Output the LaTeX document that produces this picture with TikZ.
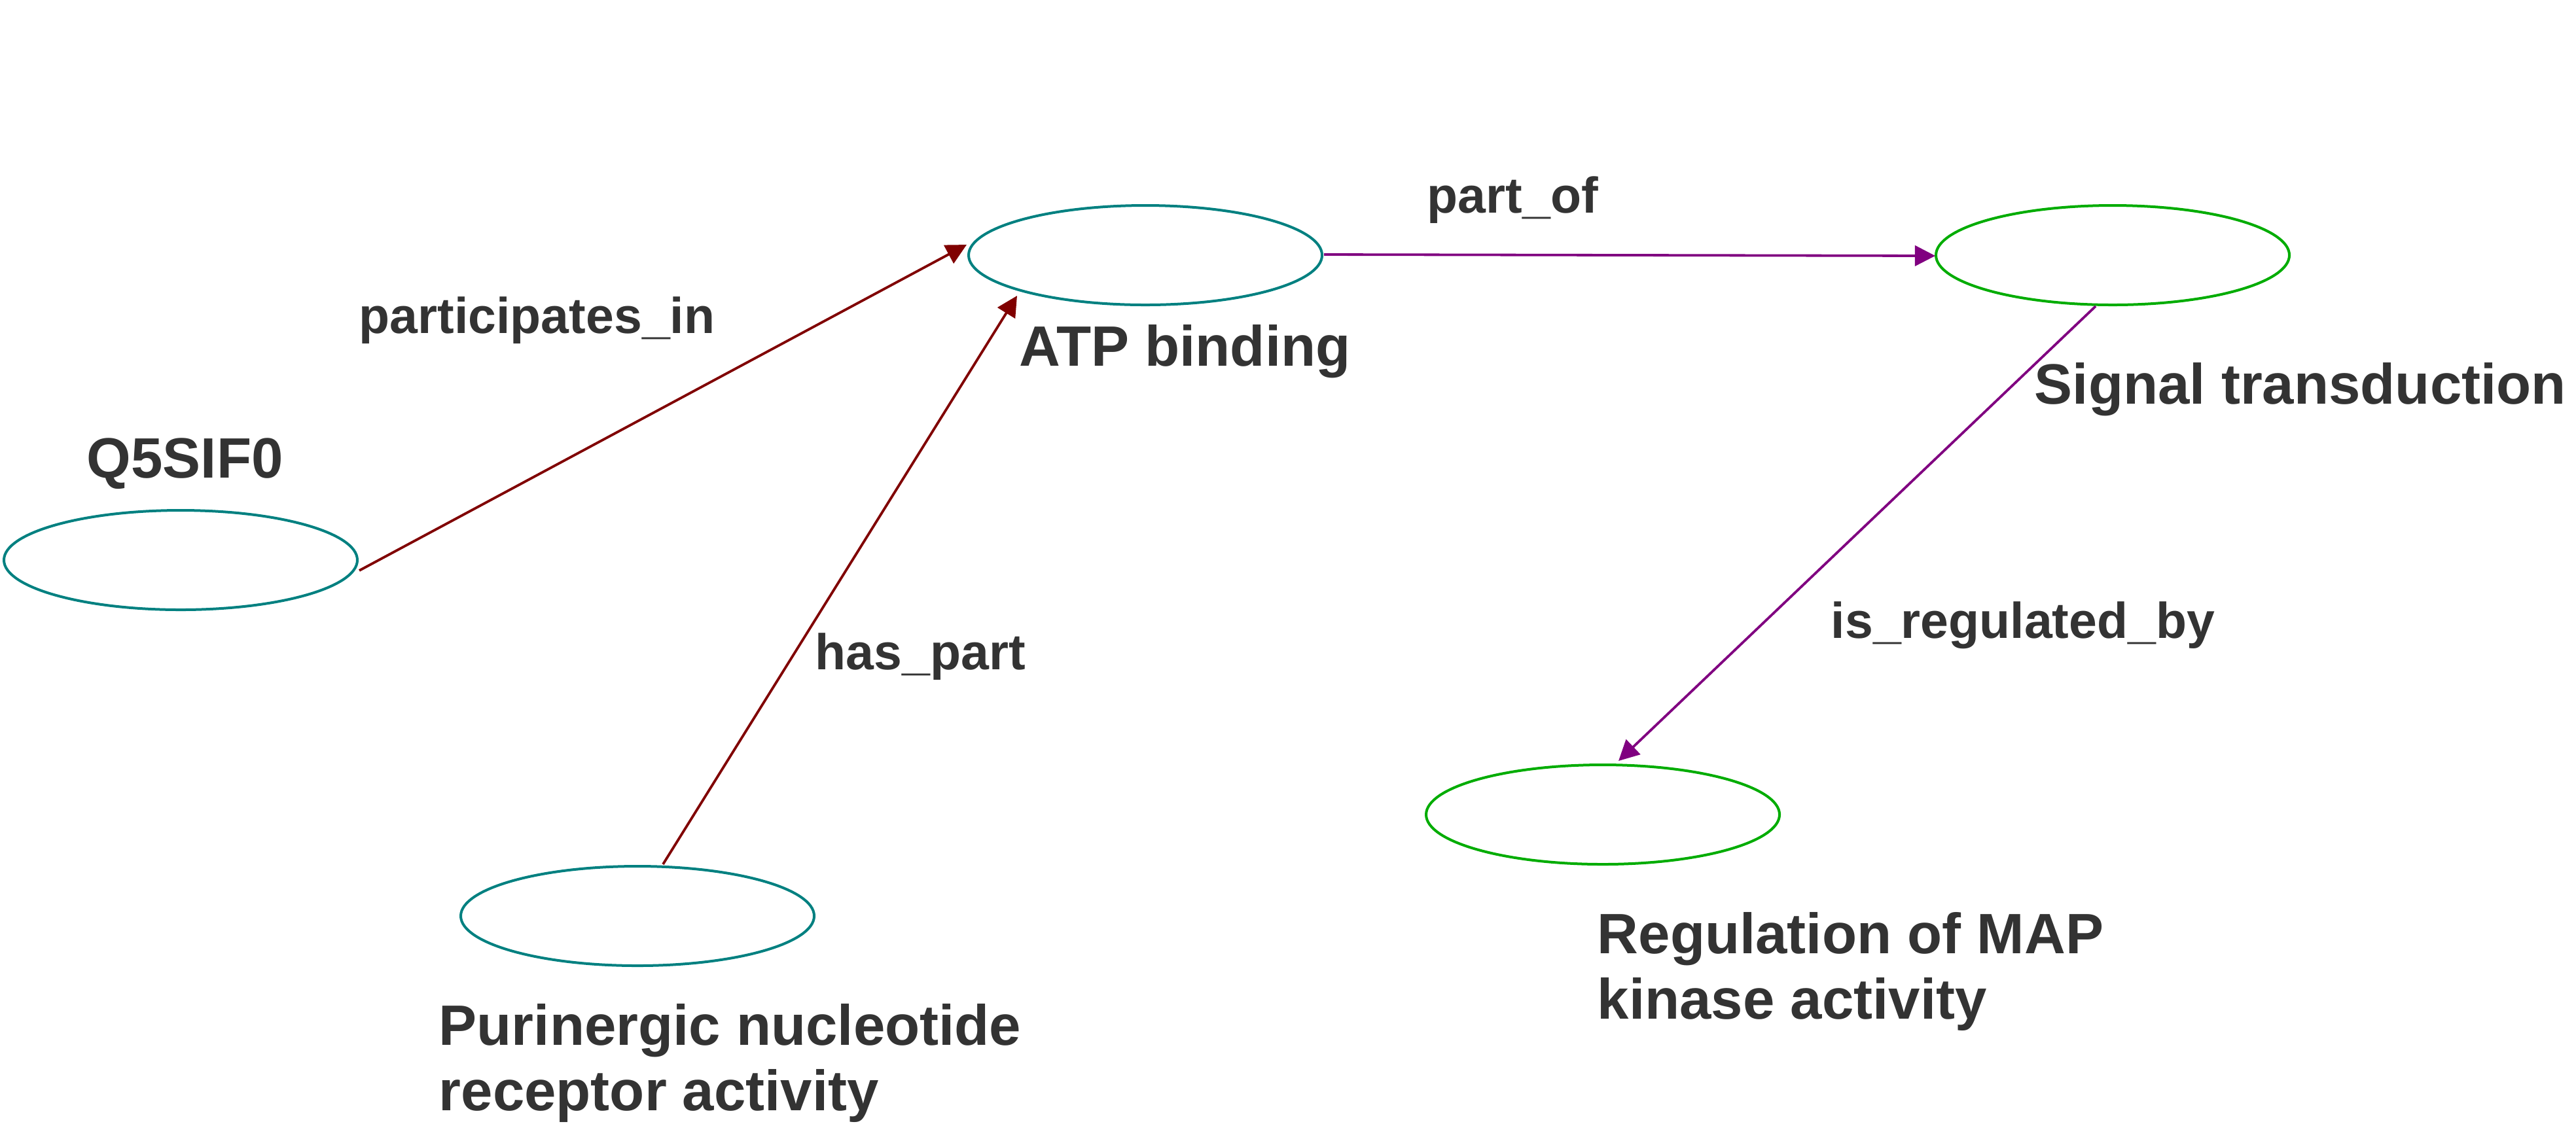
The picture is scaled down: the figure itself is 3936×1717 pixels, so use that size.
\documentclass[tikz,border=0pt]{standalone}
\usepackage{fontspec}
\setmainfont{Liberation Sans}
\usetikzlibrary{arrows.meta,calc,shapes.geometric}
\definecolor{tealc}{RGB}{0,128,128}
\definecolor{greenc}{RGB}{0,172,0}
\definecolor{maroonc}{RGB}{128,0,0}
\definecolor{purplec}{RGB}{128,0,128}
\definecolor{textc}{RGB}{51,51,51}
\tikzset{
  term/.style={ellipse, draw, line width=1pt, minimum width=135pt, minimum height=38pt, inner sep=0pt},
  gonode/.style={term, draw=tealc},
  gonodeg/.style={term, draw=greenc},
  nodetext/.style={anchor=base west, inner sep=0pt, text=textc, font=\bfseries\fontsize{21.75}{25}\selectfont, align=left},
  edgetext/.style={anchor=base west, inner sep=0pt, text=textc, font=\bfseries\fontsize{19.25}{23}\selectfont},
  rel/.style={line width=0.95pt, -{Triangle[length=7.8pt,width=7.8pt]}},
}
\begin{document}
\begin{tikzpicture}[x=0.25pt,y=-0.25pt]
\useasboundingbox (0,0) rectangle (3936,1717);
% nodes
\node[gonode] (q) at (276,856) {};
\node[gonode] (atp) at (1750,390) {};
\node[gonodeg] (sig) at (3228,390) {};
\node[gonode] (pur) at (974,1400) {};
\node[gonodeg] (reg) at (2449,1245) {};
% node labels
\node[nodetext] (tq) at (132,730) {Q5SIF0};
\node[nodetext] (tatp) at (1557,559) {ATP binding};
\node[nodetext] (tsig) at (3108,617) {Signal transduction};
\node[nodetext] (tpur) at (670,1597) {Purinergic nucleotide};
\node[nodetext] (tpur2) at (670,1697) {receptor activity};
\node[nodetext] (treg) at (2440,1457) {Regulation of MAP};
\node[nodetext] (treg2) at (2440,1557) {kinase activity};
% edges
\draw[rel, maroonc] ($(q)+(273,16)$) -- ($(atp)+(-273,-16)$);
\draw[rel, maroonc] ($(pur)+(39,-79)$) -- ($(atp)+(-196,62)$);
\draw[rel, purplec] ($(atp)+(273,-1)$) -- ($(sig)+(-271,1)$);
\draw[rel, purplec] ($(sig)+(-26,78)$) -- ($(reg)+(24,-82)$);
% edge labels
\node[edgetext] (lpi) at (548,509) {participates\_in};
\node[edgetext] (lpo) at (2180,325) {part\_of};
\node[edgetext] (lhp) at (1245,1023) {has\_part};
\node[edgetext] (lir) at (2797,975) {is\_regulated\_by};
\end{tikzpicture}
\end{document}
